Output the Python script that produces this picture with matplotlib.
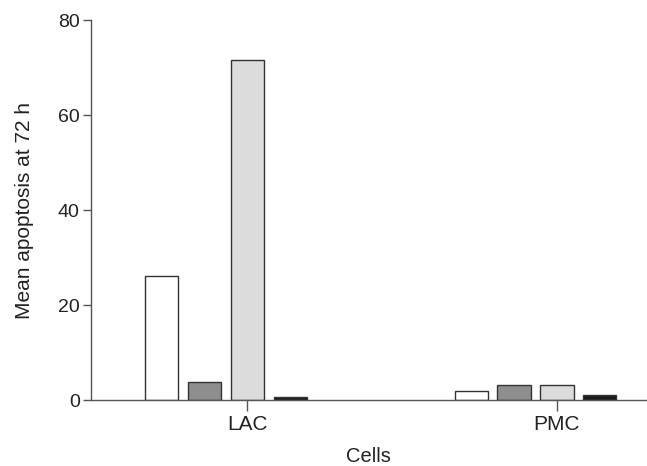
import matplotlib
matplotlib.use("Agg")
from matplotlib import pyplot as plt

# data
cells = ["LAC", "PMC"]
series_colors = ['#ffffff', '#8e8e8e', '#dcdcdc', '#1c1c1c']
lac_values = [26.1, 3.8, 71.6, 0.6]
pmc_values = [1.9, 3.2, 3.2, 1.0]

plt.rcParams['font.family'] = ['Liberation Sans', 'DejaVu Sans']

fig = plt.figure(figsize=(6.47, 4.66), dpi=100)
ax = fig.add_axes([0.1406, 0.1416, 0.859, 0.8154])

group_starts = [0.0, 7.21]
for start, values in zip(group_starts, [lac_values, pmc_values]):
    for i, (v, c) in enumerate(zip(values, series_colors)):
        ax.bar(start + i, v, width=0.77, color=c, edgecolor='#333333', linewidth=1.0)

ax.set_xlim(-1.64, 11.3)
ax.set_ylim(0, 80)
ax.set_yticks([0, 20, 40, 60, 80])
ax.set_xticks([s + 2 for s in group_starts])
ax.set_xticklabels(cells)

for side in ['top', 'right']:
    ax.spines[side].set_visible(False)
for side in ['left', 'bottom']:
    ax.spines[side].set_color('#555555')
    ax.spines[side].set_linewidth(1.0)

ax.tick_params(axis='y', length=6, width=1, color='#555555', labelsize=14, pad=2, labelcolor='#222222')
ax.tick_params(axis='x', length=8, width=1, color='#555555', labelsize=15, pad=3, labelcolor='#222222')

ax.set_xlabel("Cells", fontsize=14.5, labelpad=9, color='#222222')
ax.set_ylabel("Mean apoptosis at 72 h", fontsize=15, labelpad=17, color='#222222')

fig.savefig("out.png", dpi=100)
